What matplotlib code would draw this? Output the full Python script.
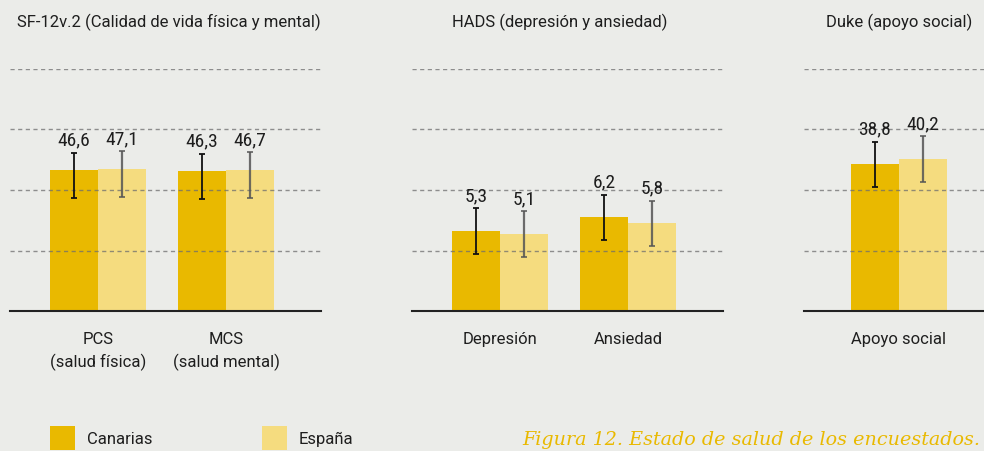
import numpy as np
import matplotlib
matplotlib.use("Agg")
import matplotlib.pyplot as plt
from matplotlib import font_manager
from matplotlib.patches import Patch

# data
series = ["Canarias", "España"]

sf12_cats = ["PCS\n(salud física)", "MCS\n(salud mental)"]
sf12_can = [46.6, 46.3]
sf12_esp = [47.1, 46.7]
sf12_err_lo = [9.3, 9.4]
sf12_err_hi = [5.7, 5.7]

hads_cats = ["Depresión", "Ansiedad"]
hads_can = [5.3, 6.2]
hads_esp = [5.1, 5.8]
hads_err = [1.5, 1.5]

duke_cats = ["Apoyo social"]
duke_can = [38.8]
duke_esp = [40.2]
duke_err = [6.0]

titles = ["SF-12v.2 (Calidad de vida física y mental)",
          "HADS (depresión y ansiedad)",
          "Duke (apoyo social)"]
caption = "Figura 12. Estado de salud de los encuestados."

# style
BG = "#EBECE9"
C_CAN = "#E9B900"
C_ESP = "#F5DC7F"
TXT = "#1E1E1E"
FONT = ["Roboto", "DejaVu Sans"]

# narrow face for the value labels, whatever is around
installed = {f.name: f for f in font_manager.fontManager.ttflist}
NUMPROP = dict(family=["DejaVu Sans"], stretch="condensed")
for cand in ["Liberation Sans Narrow", "Roboto Condensed", "DejaVu Sans Condensed"]:
    if cand in installed:
        NUMPROP = dict(family=[cand])
        break
else:
    for f in font_manager.fontManager.ttflist:
        if "Condensed" in f.fname and "DejaVuSans" in f.fname and "Bold" not in f.fname \
                and "Oblique" not in f.fname:
            NUMPROP = dict(fname=f.fname)
            break


def numtext(ax, s, xy):
    if "fname" in NUMPROP:
        fp = font_manager.FontProperties(fname=NUMPROP["fname"], size=14)
    else:
        fp = font_manager.FontProperties(size=14, **NUMPROP)
    ax.annotate(s, xy, xytext=(0, 3), textcoords="offset points", ha="center",
                va="bottom", color=TXT, fontproperties=fp)


W, H = 984, 452
fig = plt.figure(figsize=(W / 100, H / 100), dpi=100, facecolor=BG)


def panel(left_px, xlim, cats, can, esp, err_can, err_esp, ymax, step, title, title_x):
    ax = fig.add_axes([left_px / W, (H - 312) / H, 311 / W, 242 / H])
    ax.patch.set_alpha(0)
    x = np.arange(len(cats))
    bw = 0.375
    ax.bar(x - bw / 2, can, bw, color=C_CAN, zorder=2)
    ax.bar(x + bw / 2, esp, bw, color=C_ESP, zorder=2)
    ax.errorbar(x - bw / 2, can, yerr=err_can, fmt="none", ecolor="#111111",
                elinewidth=1.3, capsize=2, capthick=1.3, zorder=4)
    ax.errorbar(x + bw / 2, esp, yerr=err_esp, fmt="none", ecolor="#555555",
                elinewidth=1.6, capsize=2, capthick=1.3, zorder=4, alpha=0.85)
    hi_can = err_can[1] if np.ndim(err_can) == 2 else err_can
    hi_esp = err_esp[1] if np.ndim(err_esp) == 2 else err_esp
    for xi, v, e in zip(x - bw / 2, can, hi_can):
        numtext(ax, f"{v:.1f}".replace(".", ","), (xi, v + e))
    for xi, v, e in zip(x + bw / 2, esp, hi_esp):
        numtext(ax, f"{v:.1f}".replace(".", ","), (xi, v + e))
    ax.set_ylim(0, ymax)
    ax.set_xlim(*xlim)
    ax.set_yticks(np.arange(step, ymax + step / 2, step))
    ax.yaxis.grid(True, linestyle=(0, (3, 2.5)), color="#6E6E6E", alpha=0.75,
                  linewidth=1.0, zorder=3)
    ax.set_axisbelow(False)
    ax.tick_params(axis="y", left=False, labelleft=False)
    ax.set_xticks(x)
    ax.set_xticklabels(cats, fontsize=12, color=TXT, family=FONT, linespacing=1.5)
    ax.tick_params(axis="x", length=0, pad=14.5)
    for s in ["top", "right", "left"]:
        ax.spines[s].set_visible(False)
    ax.spines["bottom"].set_color("#222222")
    ax.spines["bottom"].set_linewidth(1.5)
    ax.spines["bottom"].set_zorder(5)
    ax.annotate(title, (title_x, 1 - 22 / H), xycoords=("data", "figure fraction"),
                ha="center", va="center", fontsize=12, color=TXT, family=FONT,
                annotation_clip=False)
    return ax


panel(10, (-0.6875, 1.742), sf12_cats, sf12_can, sf12_esp,
      [sf12_err_lo, sf12_err_hi], [sf12_err_lo, sf12_err_hi], 80, 20, titles[0], 0.55)
panel(412, (-0.6875, 1.742), hads_cats, hads_can, hads_esp,
      hads_err, hads_err, 16, 4, titles[1], 0.47)
panel(804, (-0.742, 1.688), duke_cats, duke_can, duke_esp,
      duke_err, duke_err, 64, 16, titles[2], 0.0)

handles = [Patch(facecolor=C_CAN), Patch(facecolor=C_ESP)]
fig.legend(handles, series, loc="upper left", bbox_to_anchor=(50 / W, 1 - 427 / H),
           ncol=2, frameon=False, borderpad=0, borderaxespad=0,
           handlelength=1.5, handleheight=1.8, handletextpad=0.7,
           columnspacing=6.6, prop={"family": FONT, "size": 12},
           labelcolor=TXT)

fig.text(522 / W, 1 - 440 / H, caption, ha="left", va="center", fontsize=13.8,
         style="italic", family=["DejaVu Serif"], color=C_CAN)

fig.savefig("out.png", dpi=100, facecolor=BG)
